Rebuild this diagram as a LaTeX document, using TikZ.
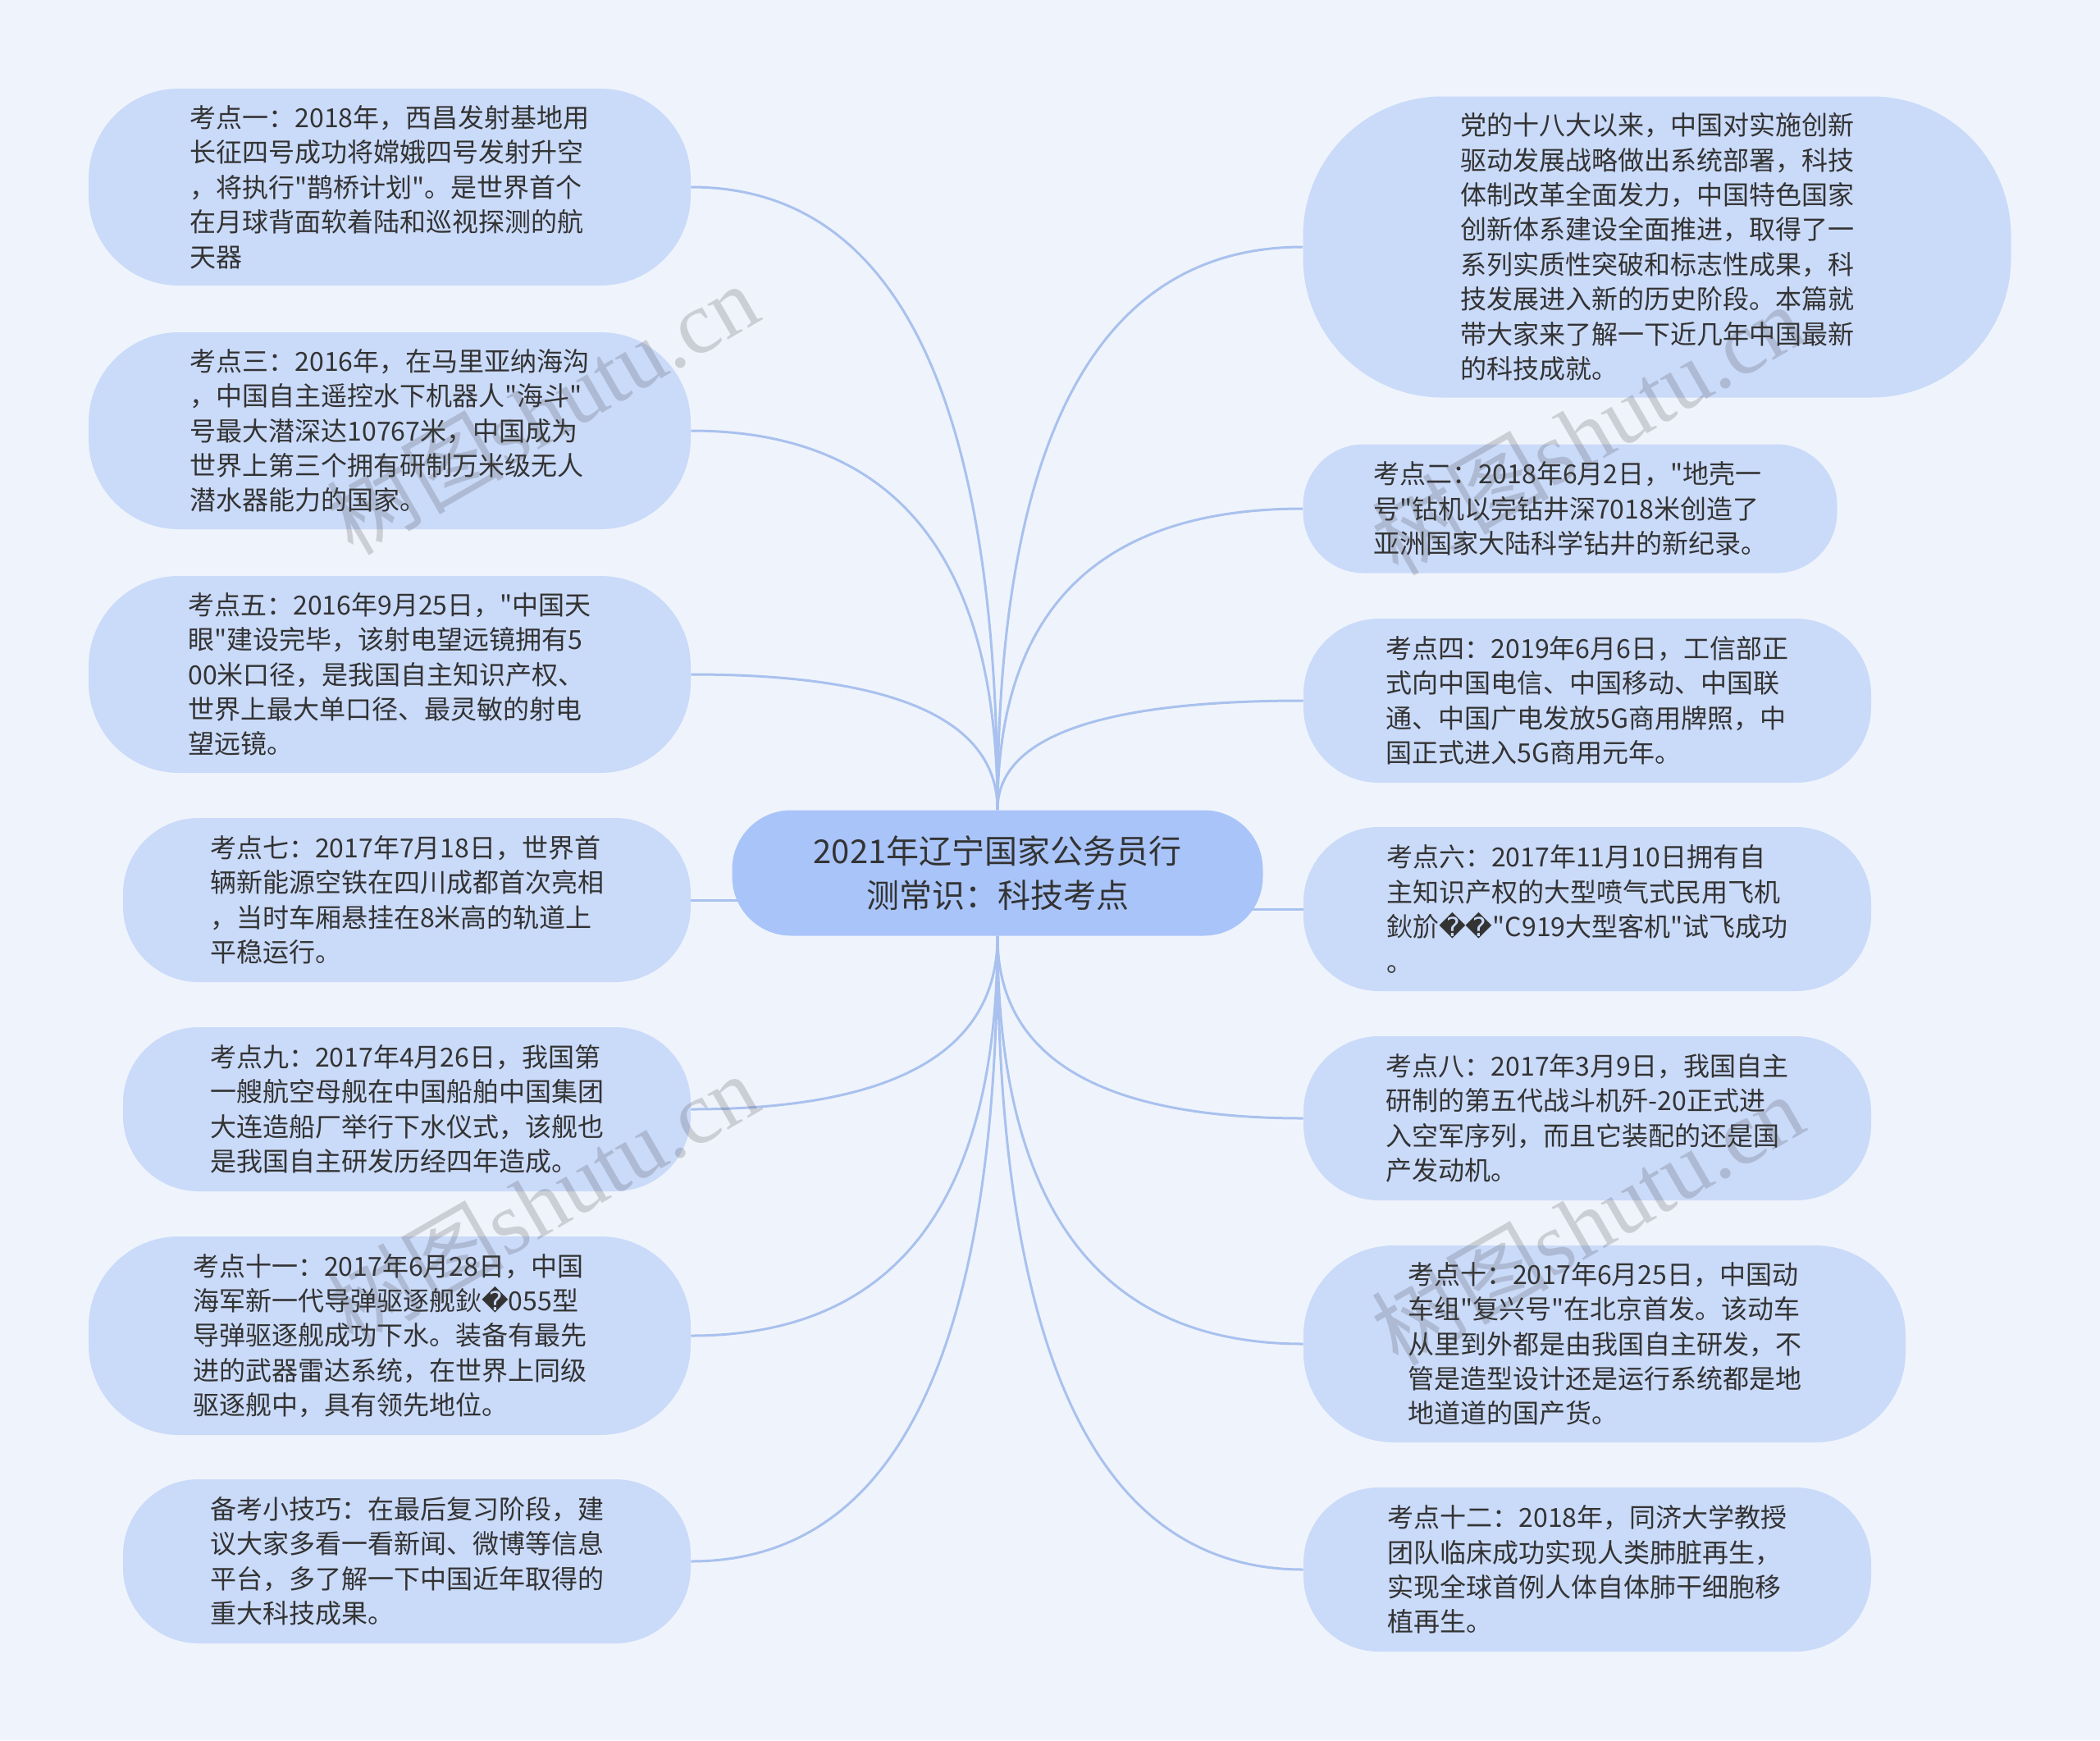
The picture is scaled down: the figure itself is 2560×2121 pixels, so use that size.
\documentclass[tikz,border=0pt]{standalone}
\usepackage{fontspec}
\setmainfont{Noto Sans CJK SC}[Ligatures=TeXOff]
\newfontfamily\replfont{DejaVu Sans}
\newfontfamily\wmserif{Liberation Serif}
\usetikzlibrary{calc,backgrounds}
\definecolor{bgc}{HTML}{EFF4FC}
\definecolor{nodec}{HTML}{CADAF9}
\definecolor{centc}{HTML}{A9C4F9}
\definecolor{linec}{HTML}{A9C1EE}
\definecolor{txtc}{HTML}{333333}
\newcommand\qedge[2]{\draw[conn] (#1) .. controls ($(#1)!0.6667!(#1 |- #2)$) and ($(#2)!0.6667!(#1 |- #2)$) .. (#2);}
\newcommand\rp[1]{{\replfont #1}}
\begin{document}
\begin{tikzpicture}[x=0.5pt,y=-0.5pt,
  box/.style={fill=nodec, draw=none, align=left, text=txtc, inner sep=0pt,
    font=\fontsize{16pt}{21.2pt}\selectfont},
  cbox/.style={fill=centc, draw=none, align=center, text=txtc, inner sep=0pt,
    font=\fontsize{20pt}{27pt}\selectfont},
  conn/.style={draw=linec, line width=1.5pt},
  wmark/.style={text=black!70, opacity=0.22, rotate=30, inner sep=0pt}]
\useasboundingbox (0,0) rectangle (2560,2121);

% centre
\node[cbox, minimum width=323.5pt, minimum height=76.5pt, rounded corners=36pt] (c) at (1216,1064)
  {2021年辽宁国家公务员行\\测常识：科技考点};

% left nodes
\node[box, minimum width=367pt, minimum height=120pt, rounded corners=55pt] (l1) at (475,228)
  {考点一：2018年，西昌发射基地用\\长征四号成功将嫦娥四号发射升空\\，将执行"鹊桥计划"。是世界首个\\在月球背面软着陆和巡视探测的航\\天器};
\node[box, minimum width=367pt, minimum height=120pt, rounded corners=55pt] (l2) at (475,525)
  {考点三：2016年，在马里亚纳海沟\\，中国自主遥控水下机器人"海斗"\\号最大潜深达10767米，中国成为\\世界上第三个拥有研制万米级无人\\潜水器能力的国家。};
\node[box, minimum width=367pt, minimum height=120pt, rounded corners=55pt] (l3) at (475,822)
  {考点五：2016年9月25日，"中国天\\眼"建设完毕，该射电望远镜拥有5\\00米口径，是我国自主知识产权、\\世界上最大单口径、最灵敏的射电\\望远镜。};
\node[box, minimum width=346pt, minimum height=100pt, rounded corners=46pt] (l4) at (496,1097)
  {考点七：2017年7月18日，世界首\\辆新能源空铁在四川成都首次亮相\\，当时车厢悬挂在8米高的轨道上\\平稳运行。};
\node[box, minimum width=346pt, minimum height=100pt, rounded corners=46pt] (l5) at (496,1352)
  {考点九：2017年4月26日，我国第\\一艘航空母舰在中国船舶中国集团\\大连造船厂举行下水仪式，该舰也\\是我国自主研发历经四年造成。};
\node[box, minimum width=367pt, minimum height=121pt, rounded corners=55pt] (l6) at (475,1628)
  {考点十一：2017年6月28日，中国\\海军新一代导弹驱逐舰鈥\rp{�}055型\\导弹驱逐舰成功下水。装备有最先\\进的武器雷达系统，在世界上同级\\驱逐舰中，具有领先地位。};
\node[box, minimum width=346pt, minimum height=100pt, rounded corners=46pt] (l7) at (496,1903)
  {备考小技巧：在最后复习阶段，建\\议大家多看一看新闻、微博等信息\\平台，多了解一下中国近年取得的\\重大科技成果。};

% right nodes
\node[box, minimum width=431.5pt, minimum height=183.5pt, rounded corners=85pt] (r1) at (2020,301)
  {党的十八大以来，中国对实施创新\\驱动发展战略做出系统部署，科技\\体制改革全面发力，中国特色国家\\创新体系建设全面推进，取得了一\\系列实质性突破和标志性成果，科\\技发展进入新的历史阶段。本篇就\\带大家来了解一下近几年中国最新\\的科技成就。};
\node[box, minimum width=325.5pt, minimum height=78.5pt, rounded corners=37pt] (r2) at (1914,620)
  {考点二：2018年6月2日，"地壳一\\号"钻机以完钻井深7018米创造了\\亚洲国家大陆科学钻井的新纪录。};
\node[box, minimum width=346pt, minimum height=100pt, rounded corners=46pt] (r3) at (1935,854)
  {考点四：2019年6月6日，工信部正\\式向中国电信、中国移动、中国联\\通、中国广电发放5G商用牌照，中\\国正式进入5G商用元年。};
\node[box, minimum width=346pt, minimum height=100pt, rounded corners=46pt] (r4) at (1935,1108)
  {考点六：2017年11月10日拥有自\\主知识产权的大型喷气式民用飞机\\鈥斺\rp{��}"C919大型客机"试飞成功\\。};
\node[box, minimum width=346pt, minimum height=100pt, rounded corners=46pt] (r5) at (1935,1363)
  {考点八：2017年3月9日，我国自主\\研制的第五代战斗机歼-20正式进\\入空军序列，而且它装配的还是国\\产发动机。};
\node[box, minimum width=367pt, minimum height=120pt, rounded corners=55pt] (r6) at (1956,1638)
  {考点十：2017年6月25日，中国动\\车组"复兴号"在北京首发。该动车\\从里到外都是由我国自主研发，不\\管是造型设计还是运行系统都是地\\地道道的国产货。};
\node[box, minimum width=346pt, minimum height=100pt, rounded corners=46pt] (r7) at (1935,1913)
  {考点十二：2018年，同济大学教授\\团队临床成功实现人类肺脏再生，\\实现全球首例人体自体肺干细胞移\\植再生。};

\begin{scope}[on background layer]
  \fill[bgc] (0,0) rectangle (2560,2121);
  \qedge{c.north}{l1.east}
  \qedge{c.north}{l2.east}
  \qedge{c.north}{l3.east}
  \draw[conn] (c.center |- l4.east) -- (l4.east);
  \qedge{c.south}{l5.east}
  \qedge{c.south}{l6.east}
  \qedge{c.south}{l7.east}
  \qedge{c.north}{r1.west}
  \qedge{c.north}{r2.west}
  \qedge{c.north}{r3.west}
  \draw[conn] (c.center |- r4.west) -- (r4.west);
  \qedge{c.south}{r5.west}
  \qedge{c.south}{r6.west}
  \qedge{c.south}{r7.west}
\end{scope}

% watermarks
\node[wmark] (w1) at (661,498) {\fontsize{54pt}{54pt}\selectfont 树图\wmserif shutu.cn};
\node[wmark] (w2) at (1935,523) {\fontsize{54pt}{54pt}\selectfont 树图\wmserif shutu.cn};
\node[wmark] (w3) at (661,1461) {\fontsize{54pt}{54pt}\selectfont 树图\wmserif shutu.cn};
\node[wmark] (w4) at (1935,1486) {\fontsize{54pt}{54pt}\selectfont 树图\wmserif shutu.cn};
\end{tikzpicture}
\end{document}
